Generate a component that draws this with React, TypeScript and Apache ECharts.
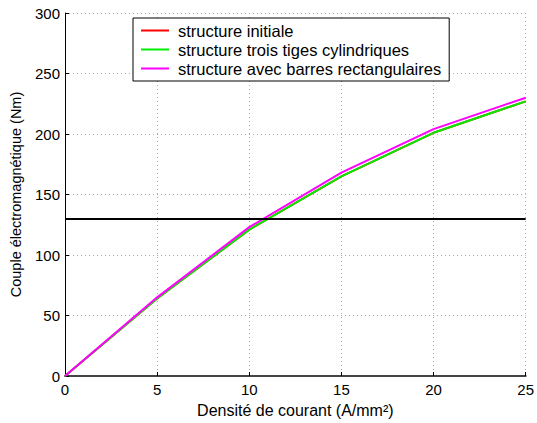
import React, { useEffect, useRef } from "react";
import * as echarts from "echarts";

// Current density (A/mm²)
const densities = [0, 5, 10, 15, 20, 25];
// Electromagnetic torque (Nm) for each rotor structure
const initiale = [0, 64, 121, 165, 201, 227];
const troisTiges = [0, 64, 121, 165, 201, 227];
const barresRect = [0, 65, 123, 168, 204, 230];
// Reference torque level
const couplePalier = 130;

const seriesNames = [
  "structure initiale",
  "structure trois tiges cylindriques",
  "structure avec barres rectangulaires",
];

const FONT = "'Liberation Sans', Arial, Helvetica, sans-serif";

export default function App() {
  const ref = useRef<HTMLDivElement>(null);

  useEffect(() => {
    if (!ref.current) return;
    const chart = echarts.init(ref.current, null, { renderer: "svg" });
    const pairs = (ys: number[]) => densities.map((x, i) => [x, ys[i]]);
    const line = (name: string, color: string, ys: number[]) => ({
      name,
      type: "line",
      data: pairs(ys),
      symbol: "none",
      lineStyle: { color, width: 2 },
      itemStyle: { color },
    });
    const grid = { color: "#aaa", type: [1, 3], width: 1 };
    chart.setOption({
      animation: false,
      textStyle: { fontFamily: FONT },
      grid: { left: 61, right: 11, top: 13, bottom: 45, containLabel: false },
      legend: {
        data: seriesNames,
        orient: "vertical",
        left: 133,
        top: 18,
        padding: [4, 8, 4, 8],
        itemGap: 2,
        itemWidth: 28,
        itemHeight: 2,
        icon: "rect",
        backgroundColor: "#fff",
        borderColor: "#000",
        borderWidth: 1,
        borderRadius: 0,
        textStyle: {
          fontSize: 16.5,
          lineHeight: 16.5,
          color: "#000",
          fontFamily: FONT,
          padding: [0, 0, 0, 4],
        },
      },
      xAxis: {
        type: "value",
        min: 0,
        max: 25,
        interval: 5,
        name: "Densité de courant (A/mm²)",
        nameLocation: "middle",
        nameGap: 26,
        nameTextStyle: { fontSize: 16, color: "#000", fontFamily: FONT },
        axisLine: { onZero: false, lineStyle: { color: "#444", width: 2 } },
        axisTick: { inside: true, length: 4, lineStyle: { color: "#000" } },
        axisLabel: { fontSize: 15, color: "#000", margin: 6, fontFamily: FONT },
        splitLine: { show: true, lineStyle: grid },
      },
      yAxis: {
        type: "value",
        min: 0,
        max: 300,
        interval: 50,
        name: "Couple électromagnétique (Nm)",
        nameLocation: "middle",
        nameGap: 42,
        nameTextStyle: { fontSize: 14.5, color: "#000", fontFamily: FONT },
        axisLine: { show: true, onZero: false, lineStyle: { color: "#000", width: 1 } },
        axisTick: { show: true, inside: true, length: 4, lineStyle: { color: "#000" } },
        axisLabel: { fontSize: 15, color: "#000", margin: 5, fontFamily: FONT },
        splitLine: { show: true, lineStyle: grid },
      },
      series: [
        {
          ...line(seriesNames[0], "#ff0000", initiale),
          markLine: {
            silent: true,
            symbol: "none",
            label: { show: false },
            lineStyle: { color: "#000", width: 2, type: "solid" },
            data: [{ yAxis: couplePalier }],
          },
        },
        line(seriesNames[1], "#00ee00", troisTiges),
        line(seriesNames[2], "#ff00ff", barresRect),
      ],
    });
    return () => chart.dispose();
  }, []);

  return (
    <div
      ref={ref}
      style={{ position: "fixed", left: 0, top: 0, width: 537, height: 423, background: "#fff" }}
    />
  );
}
